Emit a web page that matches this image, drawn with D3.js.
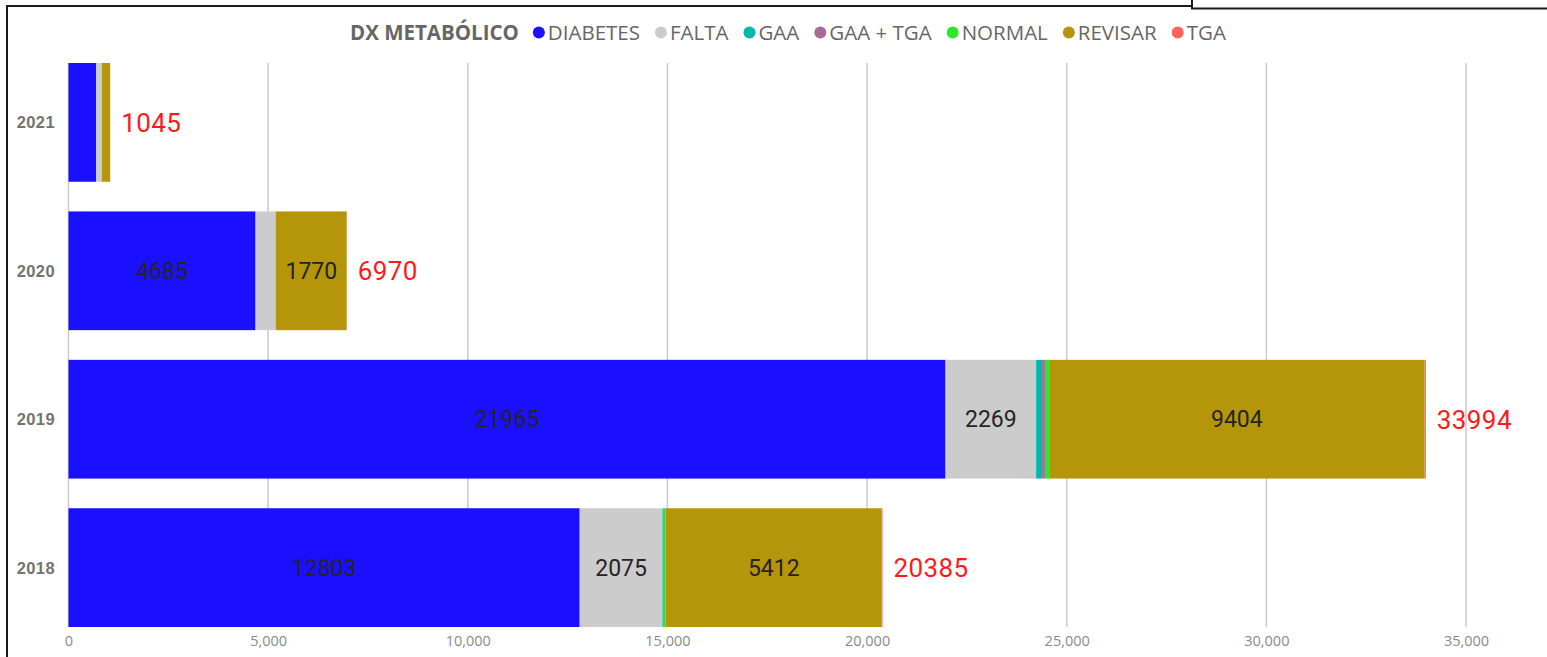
<!DOCTYPE html>
<html>
<head>
<meta charset="utf-8">
<script src="https://cdn.jsdelivr.net/npm/d3@7"></script>
<style>
  html, body { margin: 0; padding: 0; background: #fff; }
  svg { display: block; }
</style>
</head>
<body>
<svg id="chart" width="1547" height="657"></svg>
<script>
// ---------- data ----------
const years = ['2021', '2020', '2019', '2018'];
const seriesNames = ['DIABETES', 'FALTA', 'GAA', 'GAA + TGA', 'NORMAL', 'REVISAR', 'TGA'];
const seriesColors = ['#1A10FF', '#CCCCCC', '#01B8AA', '#A66999', '#2EE62E', '#B5960B', '#FD625E'];
const diabetes = [695, 4685, 21965, 12803];
const falta    = [140, 500, 2269, 2075];
const gaa      = [2, 6, 150, 30];
const gaaTga   = [0, 2, 70, 5];
const normal   = [3, 5, 106, 45];
const revisar  = [205, 1770, 9404, 5412];
const tga      = [0, 2, 30, 15];
const xTicks   = [0, 5000, 10000, 15000, 20000, 25000, 30000, 35000];
const legendTitle = 'DX METABÓLICO';

const seriesValues = [diabetes, falta, gaa, gaaTga, normal, revisar, tga];
const rows = years.map((y, i) => {
  const r = { year: y };
  seriesNames.forEach((s, k) => r[s] = seriesValues[k][i]);
  return r;
});

// ---------- scales ----------
const svg = d3.select('#chart');
const x = d3.scaleLinear().domain([0, 35000]).range([68.5, 1466]);
const y = d3.scaleBand().domain(years).range([63, 627]).paddingInner(0.2).paddingOuter(0);
const color = d3.scaleOrdinal().domain(seriesNames).range(seriesColors);

// ---------- frame ----------
svg.append('rect').attr('width', 1547).attr('height', 657).attr('fill', '#fff');
const frame = svg.append('g').attr('stroke', '#1a1a1a').attr('stroke-width', 2).attr('fill', 'none');
frame.append('path').attr('d', 'M7,657 V6 H1192');
frame.append('path').attr('d', 'M1192,0 V8.5 H1547');

// ---------- grid + axis ----------
const axis = svg.append('g')
  .attr('transform', `translate(0,627)`)
  .call(d3.axisBottom(x).tickValues(xTicks).tickFormat(d3.format(',')).tickSize(0).tickPadding(9));
axis.select('.domain').remove();
axis.selectAll('text')
  .attr('font-family', '"Open Sans", sans-serif')
  .attr('font-size', 14.5)
  .attr('fill', '#8a8a8a');

svg.append('g').selectAll('line').data(xTicks).join('line')
  .attr('x1', d => x(d)).attr('x2', d => x(d))
  .attr('y1', 63).attr('y2', 627)
  .attr('stroke', '#cbcbcb').attr('stroke-width', 1.5);

// ---------- y labels ----------
svg.append('g').selectAll('text').data(years).join('text')
  .attr('x', 55)
  .attr('y', d => y(d) + y.bandwidth() / 2)
  .attr('dy', '0.36em')
  .attr('text-anchor', 'end')
  .attr('font-family', '"Liberation Sans", Arial, sans-serif')
  .attr('font-weight', 'bold')
  .attr('font-size', 16.5)
  .attr('letter-spacing', 0.4)
  .attr('fill', '#737373')
  .text(d => d);

// ---------- bars ----------
const stacked = d3.stack().keys(seriesNames)(rows);
const layers = svg.append('g').selectAll('g').data(stacked).join('g')
  .attr('fill', d => color(d.key));
layers.selectAll('rect').data(d => d).join('rect')
  .attr('x', d => x(d[0]))
  .attr('y', d => y(d.data.year))
  .attr('width', d => Math.max(0, x(d[1]) - x(d[0])))
  .attr('height', y.bandwidth());

// inner data labels (only where they fit)
const labelG = svg.append('g');
stacked.forEach(layer => {
  layer.forEach(d => {
    const v = d[1] - d[0];
    const w = x(d[1]) - x(d[0]);
    if (v <= 0) return;
    const t = labelG.append('text')
      .attr('x', (x(d[0]) + x(d[1])) / 2)
      .attr('y', y(d.data.year) + y.bandwidth() / 2)
      .attr('dy', '0.36em')
      .attr('text-anchor', 'middle')
      .attr('font-family', 'Roboto, sans-serif')
      .attr('font-size', 23)
      .attr('fill', '#252423')
      .text(v);
    if (t.node().getComputedTextLength() + 12 > w) t.remove();
  });
});

// totals
svg.append('g').selectAll('text').data(rows).join('text')
  .attr('x', d => x(d3.sum(seriesNames, s => d[s])) + 11)
  .attr('y', d => y(d.year) + y.bandwidth() / 2)
  .attr('dy', '0.36em')
  .attr('font-family', 'Roboto, sans-serif')
  .attr('font-size', 26)
  .attr('letter-spacing', 0.4)
  .attr('fill', '#FF1A1A')
  .text(d => d3.sum(seriesNames, s => d[s]));

// ---------- legend ----------
const leg = svg.append('g');
let lx = 350;
const ly = 40;
const title = leg.append('text')
  .attr('x', lx).attr('y', ly)
  .attr('font-family', '"Open Sans", sans-serif')
  .attr('font-weight', 'bold')
  .attr('font-size', 20.5)
  .attr('fill', '#666')
  .text(legendTitle);
lx += title.node().getComputedTextLength() + 14;
seriesNames.forEach(s => {
  leg.append('circle').attr('cx', lx + 6).attr('cy', 32.5).attr('r', 6).attr('fill', color(s));
  const t = leg.append('text')
    .attr('x', lx + 15).attr('y', ly)
    .attr('font-family', '"Open Sans", sans-serif')
    .attr('font-size', 20.5)
    .attr('fill', '#666')
    .text(s);
  lx += 15 + t.node().getComputedTextLength() + 15;
});
</script>
</body>
</html>
